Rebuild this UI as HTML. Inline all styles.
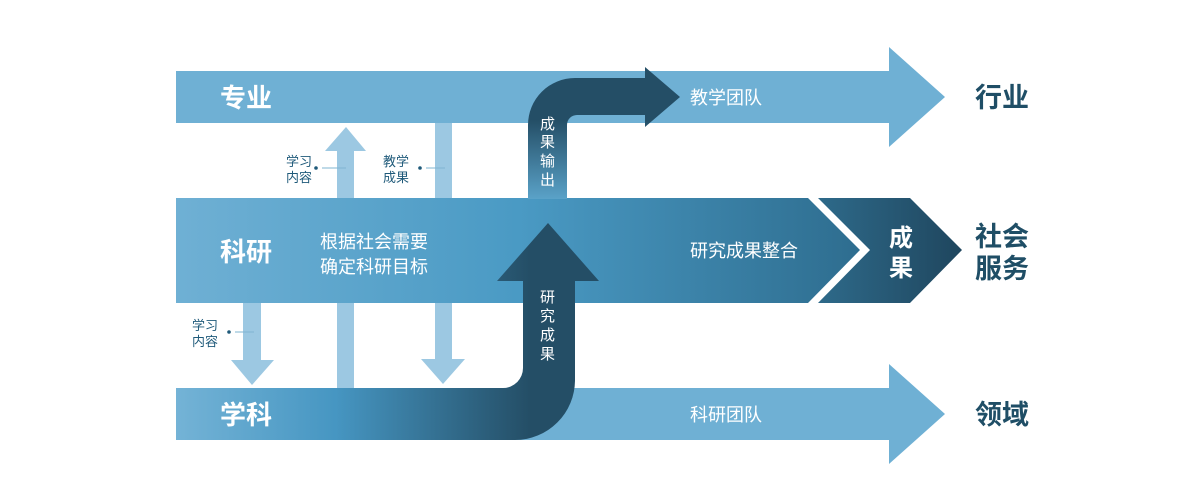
<!DOCTYPE html>
<html><head><meta charset="utf-8"><style>
body{margin:0;background:#fff;}
svg{display:block;}
text{font-family:"Liberation Sans","Noto Sans CJK SC",sans-serif;}
</style></head><body>
<svg width="1200" height="500" viewBox="0 0 1200 500" xmlns="http://www.w3.org/2000/svg">
<defs>
<linearGradient id="mid" x1="176" y1="0" x2="860" y2="0" gradientUnits="userSpaceOnUse">
<stop offset="0" stop-color="#6fb0d4"/><stop offset="0.5" stop-color="#4a9ac4"/><stop offset="1" stop-color="#2e6d8f"/></linearGradient>
<linearGradient id="res" x1="818" y1="0" x2="962" y2="0" gradientUnits="userSpaceOnUse">
<stop offset="0" stop-color="#2e6a8a"/><stop offset="1" stop-color="#1f465e"/></linearGradient>
<linearGradient id="bot" x1="176" y1="0" x2="530" y2="0" gradientUnits="userSpaceOnUse">
<stop offset="0" stop-color="#74b3d6"/><stop offset="0.45" stop-color="#4696c2"/><stop offset="1" stop-color="#244e66"/></linearGradient>
<linearGradient id="up" x1="0" y1="199" x2="0" y2="120" gradientUnits="userSpaceOnUse">
<stop offset="0" stop-color="#5aa2c8"/><stop offset="1" stop-color="#244e66"/></linearGradient>
</defs>
<!-- top band -->
<polygon points="176,71 889,71 889,47 945,97 889,147 889,123 176,123" fill="#6fb0d4"/>
<!-- bottom band -->
<polygon points="176,388 889,388 889,364 945,414 889,464 889,440 176,440" fill="#6fb0d4"/>
<!-- light vertical arrows -->
<g fill="#9cc8e2">
<rect x="337" y="150" width="17" height="49"/><polygon points="325,151 366,151 346,127"/>
<rect x="435" y="123" width="17" height="237"/><polygon points="421,359 465,359 443,384"/>
<rect x="243" y="303" width="18" height="58"/><polygon points="231,360 274,360 252,385"/>
<rect x="337" y="303" width="17" height="85"/>
</g>
<!-- middle band -->
<polygon points="176,198 808,198 860,250 808,303 176,303" fill="url(#mid)"/>
<polygon points="818,198 910,198 962,250 910,303 818,303 870,250" fill="url(#res)"/>
<!-- upper dark bent arrow -->
<path d="M528,199 L528,125 A47,47 0 0 1 575,78 L645,78 L645,67 L680,97 L645,127 L645,115 L577,115 A10,10 0 0 0 567,125 L567,199 Z" fill="url(#up)"/>
<!-- lower S arrow -->
<path d="M176,388 L503,388 A20,20 0 0 0 523,368 L523,281 L497,281 L548,223 L599,281 L575,281 L575,380 A60,60 0 0 1 515,440 L176,440 Z" fill="url(#bot)"/>
<!-- small labels -->
<g fill="#1f5a7a" font-size="13">
<text x="286" y="166">学习</text><text x="286" y="182">内容</text>
<text x="383" y="166">教学</text><text x="383" y="182">成果</text>
<text x="192" y="330">学习</text><text x="192" y="346">内容</text>
</g>
<g fill="#1f5a7a"><circle cx="316" cy="168" r="1.8"/><circle cx="420" cy="168" r="1.8"/><circle cx="229" cy="332" r="1.8"/></g>
<g stroke="#7fb4d2" stroke-width="1"><line x1="322" y1="168" x2="346" y2="168"/><line x1="426" y1="168" x2="445" y2="168"/><line x1="235" y1="332" x2="254" y2="332"/></g>
<!-- white labels -->
<g fill="#fff" font-weight="bold" font-size="26">
<text x="220" y="107">专业</text>
<text x="220" y="261">科研</text>
<text x="220" y="424">学科</text>
</g>
<g fill="#fff" font-size="18">
<text x="320" y="248">根据社会需要</text><text x="320" y="273">确定科研目标</text>
<text x="690" y="104">教学团队</text>
<text x="690" y="257">研究成果整合</text>
<text x="690" y="421">科研团队</text>
</g>
<g fill="#fff" font-size="15">
<text x="540" y="129">成</text><text x="540" y="147">果</text><text x="540" y="166">输</text><text x="540" y="185">出</text>
<text x="540" y="302">研</text><text x="540" y="321">究</text><text x="540" y="340">成</text><text x="540" y="359">果</text>
</g>
<g fill="#fff" font-size="24" font-weight="bold"><text x="889" y="246">成</text><text x="889" y="276">果</text></g>
<g fill="#1f4e66" font-size="27" font-weight="bold">
<text x="975" y="107">行业</text>
<text x="975" y="246">社会</text><text x="975" y="278">服务</text>
<text x="975" y="424">领域</text>
</g>
</svg>
</body></html>
